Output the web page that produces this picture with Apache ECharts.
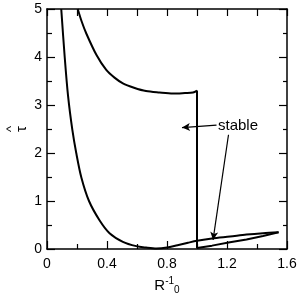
<!DOCTYPE html>
<html>
<head>
<meta charset="utf-8">
<script src="https://cdn.jsdelivr.net/npm/echarts@6/dist/echarts.min.js"></script>
<style>html,body{margin:0;padding:0;background:#fff}#c{width:299px;height:293px}</style>
</head>
<body>
<div id="c"></div>
<script>
// x-axis tick labels and y-axis tick labels
const xTicks = [0, 0.4, 0.8, 1.2, 1.6];
const yTicks = [0, 1, 2, 3, 4, 5];

// Curve A: steep left branch, minimum, then upper side of the loop
const curveA = [
  [0.095, 5.0], [0.118, 4.0], [0.14, 3.2], [0.169, 2.48], [0.195, 2.0],
  [0.229, 1.49], [0.28, 1.0], [0.35, 0.6], [0.417, 0.33], [0.506, 0.15],
  [0.595, 0.06], [0.66, 0.03], [0.73, 0.01], [0.8, 0.03], [0.87, 0.08],
  [0.94, 0.13], [1.0, 0.17], [1.1, 0.22], [1.22, 0.26], [1.33, 0.30],
  [1.44, 0.33], [1.544, 0.35]
];
// Curve B: upper branch ending at R^-1_0 = 1
const curveB = [
  [0.205, 5.0], [0.23, 4.75], [0.262, 4.49], [0.33, 4.04], [0.395, 3.73],
  [0.45, 3.57], [0.506, 3.45], [0.58, 3.36], [0.66, 3.29], [0.75, 3.26],
  [0.84, 3.24], [0.92, 3.25], [0.973, 3.26], [1.0, 3.3]
];
// Curve B continued: vertical drop and lower side of the loop
const curveBLower = [
  [1.0, 3.3], [1.0, 0.02], [1.1, 0.07], [1.22, 0.14], [1.33, 0.2],
  [1.44, 0.27], [1.544, 0.35]
];

// Annotation
const annText = 'stable';
const annTextPos = [1.14, 2.56];
const arrow1 = [[1.13, 2.58], [0.9, 2.53]];
const arrow2 = [[1.21, 2.38], [1.107, 0.19]];

const chart = echarts.init(document.getElementById('c'), null, {renderer: 'canvas'});
const font = 'Liberation Sans, Arial, sans-serif';
const lineStyle = {color: '#000', width: 2};
const axisLine = {show: true, onZero: false, lineStyle: {color: '#000', width: 1.5}};

chart.setOption({
  animation: false,
  backgroundColor: '#fff',
  grid: {left: 47, right: 12, top: 9, bottom: 44, containLabel: false, outerBoundsMode: 'none'},
  xAxis: [{
    type: 'value', min: xTicks[0], max: xTicks[xTicks.length - 1], interval: 0.4,
    position: 'bottom',
    axisLine: axisLine,
    axisTick: {show: true, inside: true, length: 8, lineStyle: {color: '#000', width: 1.2}},
    minorTick: {show: true, splitNumber: 2, length: 5, lineStyle: {color: '#000', width: 1.2}},
    splitLine: {show: false},
    axisLabel: {color: '#000', fontSize: 14, fontFamily: font, margin: 8,
      formatter: v => (v === 0 ? '0' : String(+v.toFixed(1)))},
    name: '{r|R}{s|-1}{b|0}', nameLocation: 'middle', nameGap: 27, nameMoveOverlap: false,
    nameTextStyle: {color: '#000', fontFamily: font,
      rich: {
        r: {fontSize: 15, fontFamily: font, color: '#000'},
        s: {fontSize: 10, fontFamily: font, color: '#000', padding: [0, 0, 9, 0]},
        b: {fontSize: 10, fontFamily: font, color: '#000', padding: [9, 0, 0, 0]}
      }}
  }, {
    type: 'value', min: 0, max: 1.6, interval: 0.2, position: 'top',
    axisLine: axisLine,
    axisTick: {show: true, inside: true, length: 7, lineStyle: {color: '#000', width: 1.2}},
    axisLabel: {show: false}, splitLine: {show: false}
  }],
  yAxis: [{
    type: 'value', min: yTicks[0], max: yTicks[yTicks.length - 1], interval: 1,
    position: 'left',
    axisLine: axisLine,
    axisTick: {show: true, inside: true, length: 8, lineStyle: {color: '#000', width: 1.2}},
    minorTick: {show: true, splitNumber: 2, length: 5, lineStyle: {color: '#000', width: 1.2}},
    splitLine: {show: false},
    axisLabel: {color: '#000', fontSize: 14, fontFamily: font, margin: 5},
    name: '{h|^}\n{t|τ}', nameLocation: 'middle', nameGap: 18, nameRotate: 90,
    nameMoveOverlap: false,
    nameTextStyle: {color: '#000', fontFamily: font,
      rich: {
        h: {fontSize: 13, fontFamily: font, color: '#000', lineHeight: 8},
        t: {fontSize: 15, fontFamily: font, color: '#000', lineHeight: 14}
      }}
  }, {
    type: 'value', min: 0, max: 5, interval: 1, position: 'right',
    axisLine: axisLine,
    axisTick: {show: true, inside: true, length: 8, lineStyle: {color: '#000', width: 1.2}},
    minorTick: {show: true, splitNumber: 2, length: 4, lineStyle: {color: '#000', width: 1.2}},
    axisLabel: {show: false}, splitLine: {show: false}
  }],
  series: [
    {type: 'line', data: curveA, showSymbol: false, smooth: 0.3, lineStyle: lineStyle, clip: true},
    {type: 'line', data: curveB, showSymbol: false, smooth: 0.3, lineStyle: lineStyle, clip: true},
    {type: 'line', data: curveBLower, showSymbol: false, smooth: false, lineStyle: lineStyle, clip: true},
    {
      type: 'line', data: [], silent: true,
      markLine: {
        silent: true, symbol: ['none', 'arrow'], symbolSize: [6, 8],
        label: {show: false},
        lineStyle: {color: '#000', width: 1.2, type: 'solid'},
        data: [
          [{coord: arrow1[0]}, {coord: arrow1[1]}],
          [{coord: arrow2[0]}, {coord: arrow2[1]}]
        ]
      },
      markPoint: {
        silent: true, symbol: 'circle', symbolSize: 0,
        data: [{coord: annTextPos, value: annText}],
        label: {show: true, formatter: annText, position: 'right', distance: 0,
          color: '#000', fontSize: 15, fontFamily: font}
      }
    }
  ]
});
</script>
</body>
</html>
